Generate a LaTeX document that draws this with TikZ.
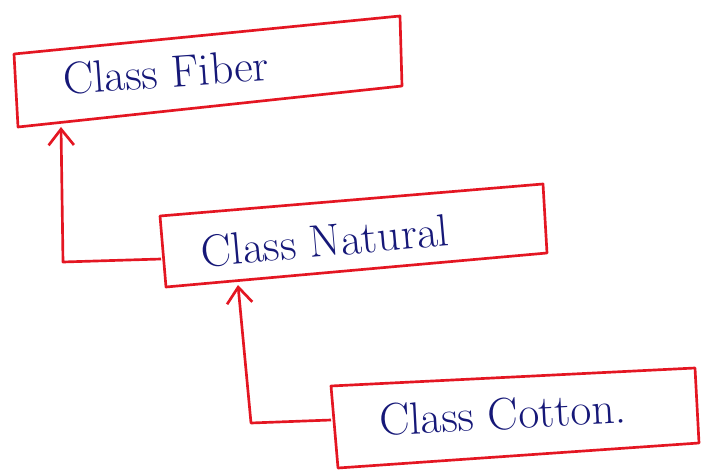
\documentclass[tikz,border=0pt]{standalone}
\usetikzlibrary{arrows.meta}
\definecolor{pen}{RGB}{228,22,34}
\definecolor{ink}{RGB}{22,24,120}
\tikzset{
  classbox/.style={draw=pen, line width=2pt, line join=round},
  link/.style={draw=pen, line width=2pt, line join=round,
    -{Straight Barb[length=12pt,width=19pt,line width=2pt]}},
  label/.style={text=ink, font=\fontsize{34}{40}\selectfont, inner sep=0pt}
}
\begin{document}
\begin{tikzpicture}[x=0.75pt,y=-0.75pt]
\fill[white] (0,0) rectangle (710,474);
\useasboundingbox (0,0) rectangle (710,474);

% corners of the three class boxes
\coordinate (fib-tl) at (14,54);  \coordinate (fib-tr) at (400,16);
\coordinate (fib-br) at (402,86); \coordinate (fib-bl) at (18,127);
\coordinate (nat-tl) at (160,216); \coordinate (nat-tr) at (543,184);
\coordinate (nat-br) at (547,253); \coordinate (nat-bl) at (166,287);
\coordinate (cot-tl) at (331,386); \coordinate (cot-tr) at (695,368);
\coordinate (cot-br) at (699,443); \coordinate (cot-bl) at (338,468);

\draw[classbox] (fib-tl) -- (fib-tr) -- (fib-br) -- (fib-bl) -- cycle;
\draw[classbox] (nat-tl) -- (nat-tr) -- (nat-br) -- (nat-bl) -- cycle;
\draw[classbox] (cot-tl) -- (cot-tr) -- (cot-br) -- (cot-bl) -- cycle;

\node[label, rotate=4] (fiber) at (166,72) {Class Fiber};
\node[label, rotate=5] (natural) at (325,241) {Class Natural};
\node[label, rotate=3] (cotton) at (503,414) {Class Cotton.};

% inheritance connectors
\coordinate (nat-in) at (161,259);
\coordinate (nat-bend) at (63,262);
\coordinate (fib-tip) at (61,127);
\coordinate (cot-in) at (331,420);
\coordinate (cot-bend) at (251,423);
\coordinate (nat-tip) at (238,285);

\draw[link] (nat-in) -- (nat-bend) -- (fib-tip);
\draw[link] (cot-in) -- (cot-bend) -- (nat-tip);
\end{tikzpicture}
\end{document}
